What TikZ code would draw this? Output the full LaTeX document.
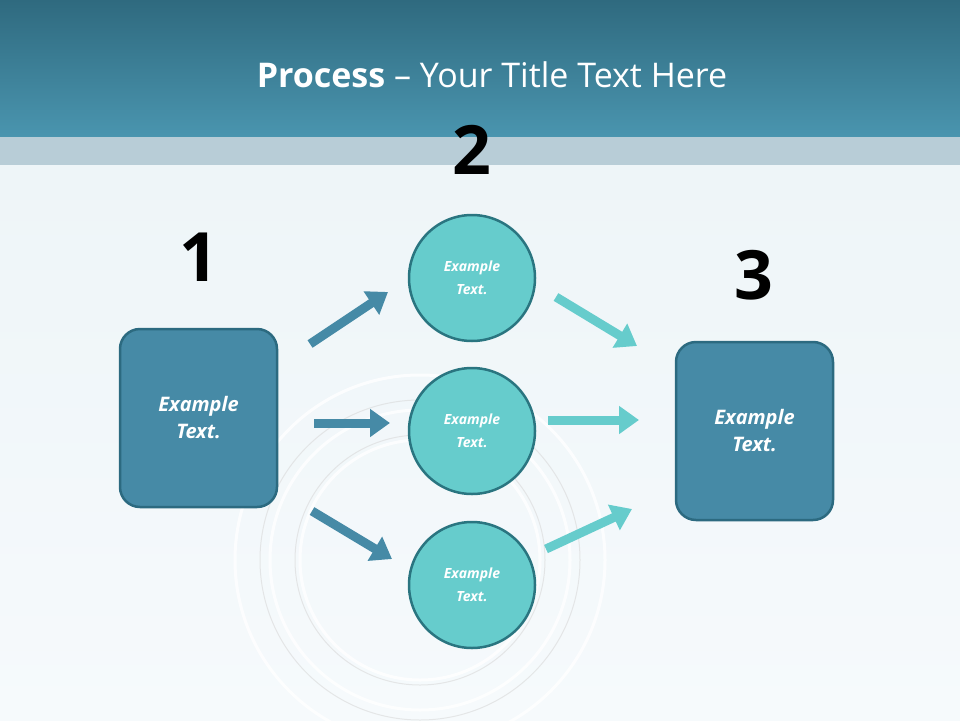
\documentclass[tikz,border=0pt]{standalone}
\usepackage{fontspec}
\setmainfont{Open Sans}
\usetikzlibrary{arrows.meta}
\definecolor{hdtop}{HTML}{2F6A7F}
\definecolor{hdbot}{HTML}{4A95AF}
\definecolor{band}{HTML}{B8CDD7}
\definecolor{boxc}{HTML}{468AA6}
\definecolor{boxb}{HTML}{2C6A80}
\definecolor{circc}{HTML}{66CCCC}
\definecolor{circb}{HTML}{2A7580}
\definecolor{bgtop}{HTML}{EEF5F8}
\definecolor{bgbot}{HTML}{F6FAFC}
\tikzset{
  stepbox/.style={draw=boxb,line width=2.5pt,fill=boxc,rounded corners=20pt,minimum width=157pt,minimum height=178pt,text=white,font=\fontsize{20}{27}\selectfont\bfseries\itshape,align=center},
  stepcirc/.style={circle,draw=circb,line width=2.5pt,fill=circc,minimum size=126pt,text=white,font=\fontsize{14}{23}\selectfont\bfseries\itshape,align=center},
  numlbl/.style={font=\fontsize{68}{68}\selectfont\bfseries,text=black},
  larrow/.style={line width=9pt,draw=boxc,-{Triangle[length=20pt,width=27pt]}},
  rarrow/.style={line width=9pt,draw=circc,-{Triangle[length=20pt,width=27pt]}},
}
\begin{document}
\begin{tikzpicture}[x=1pt,y=-1pt]
\useasboundingbox (0,0) rectangle (960,720);
\shade[top color=bgtop,bottom color=bgbot] (0,165) rectangle (960,720);
\foreach \r in {120,150,185} \draw[white,line width=3pt,opacity=0.8] (420,560) circle (\r);
\foreach \r in {125,160} \draw[gray!30,line width=1pt,opacity=0.6] (420,560) circle (\r);
\shade[top color=hdtop,bottom color=hdbot] (0,0) rectangle (960,137);
\fill[band] (0,137) rectangle (960,165);
\node[text=white,font=\fontsize{34}{34}\selectfont] (title) at (492,75) {\textbf{Process} -- Your Title Text Here};
\node[numlbl] (n1) at (199,257) {1};
\node[numlbl] (n2) at (472,150) {2};
\node[numlbl] (n3) at (754,275) {3};
\node[stepbox] (b1) at (198.5,418) {Example\\Text.};
\node[stepbox] (b3) at (754.5,431) {Example\\Text.};
\node[stepcirc] (c1) at (472,278) {Example\\Text.};
\node[stepcirc] (c2) at (472,431) {Example\\Text.};
\node[stepcirc] (c3) at (472,585) {Example\\Text.};
\coordinate (a1s) at (310,344); \coordinate (a1e) at (388,292);
\coordinate (a2s) at (314,423); \coordinate (a2e) at (390,423);
\coordinate (a3s) at (312,511); \coordinate (a3e) at (392,559);
\coordinate (r1s) at (556,297); \coordinate (r1e) at (637,346);
\coordinate (r2s) at (548,420); \coordinate (r2e) at (639,420);
\coordinate (r3s) at (546,549); \coordinate (r3e) at (632,509);
\draw[larrow] (a1s) -- (a1e);
\draw[larrow] (a2s) -- (a2e);
\draw[larrow] (a3s) -- (a3e);
\draw[rarrow] (r1s) -- (r1e);
\draw[rarrow] (r2s) -- (r2e);
\draw[rarrow] (r3s) -- (r3e);
\end{tikzpicture}
\end{document}
